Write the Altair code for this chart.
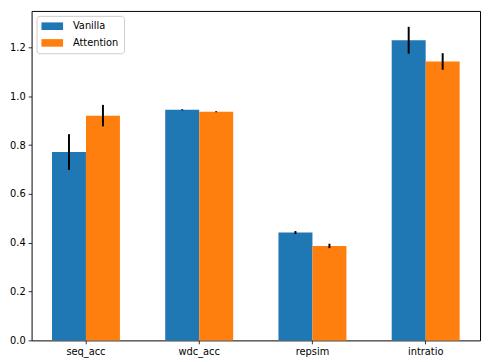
import altair as alt
import pandas as pd

categories = ["seq_acc", "wdc_acc", "repsim", "intratio"]
series = ["Vanilla", "Attention"]
vanilla = [0.772, 0.945, 0.442, 1.230]
vanilla_err = [0.073, 0.002, 0.006, 0.055]
attention = [0.921, 0.937, 0.387, 1.143]
attention_err = [0.044, 0.002, 0.009, 0.034]
colors = ["#1f77b4", "#ff7f0e"]

rows = []
for i, c in enumerate(categories):
    rows.append({"cat": c, "series": "Vanilla", "value": vanilla[i], "err": vanilla_err[i]})
    rows.append({"cat": c, "series": "Attention", "value": attention[i], "err": attention_err[i]})
df = pd.DataFrame(rows)

FONT = "DejaVu Sans"

x = alt.X("cat:N", sort=categories, title=None,
          scale=alt.Scale(paddingInner=0.4, paddingOuter=0.18),
          axis=alt.Axis(labelAngle=0, labelFontSize=10, labelColor="black", labelFont=FONT,
                        tickSize=3.5, tickColor="black", tickWidth=0.8, domain=False,
                        labelPadding=3, grid=False))
xo = alt.XOffset("series:N", sort=series, scale=alt.Scale(paddingInner=0, paddingOuter=0))

y_scale = alt.Scale(domain=[0, 1.35], nice=False, zero=True)

bars = alt.Chart(df).mark_bar().encode(
    x=x,
    xOffset=xo,
    y=alt.Y("value:Q", scale=y_scale, title=None,
            axis=alt.Axis(values=[0, 0.2, 0.4, 0.6, 0.8, 1.0, 1.2], format=".1f",
                          labelFontSize=10, labelColor="black", labelFont=FONT,
                          tickSize=3.5, tickColor="black", tickWidth=0.8, domain=False,
                          grid=False, labelPadding=3)),
    color=alt.Color("series:N", sort=series, title=None,
                    scale=alt.Scale(domain=series, range=colors),
                    legend=alt.Legend(orient="top-left", offset=5, padding=5,
                                      fillColor="rgba(255,255,255,0.8)", strokeColor="#cccccc",
                                      cornerRadius=3, labelFontSize=10, labelFont=FONT,
                                      labelColor="black",
                                      symbolType="M-1,-0.7H3V0.7H-1Z", symbolSize=121,
                                      symbolStrokeWidth=0, labelOffset=21, rowPadding=6,
                                      symbolOpacity=1)),
)

errs = alt.Chart(df).transform_calculate(
    lo="datum.value - datum.err", hi="datum.value + datum.err"
).mark_rule(color="black", strokeWidth=2).encode(
    x=alt.X("cat:N", sort=categories),
    xOffset=alt.XOffset("series:N", sort=series),
    y=alt.Y("lo:Q", scale=y_scale),
    y2="hi:Q",
)

chart = alt.layer(bars, errs).properties(
    width=456, height=335,
    background="white",
    autosize=alt.AutoSizeParams(type="none"),
    padding={"left": 24, "top": 0, "right": 2, "bottom": 20},
).configure_view(stroke="black", strokeWidth=1)

chart.save("out.html", embed_options={"renderer": "svg", "actions": False})
